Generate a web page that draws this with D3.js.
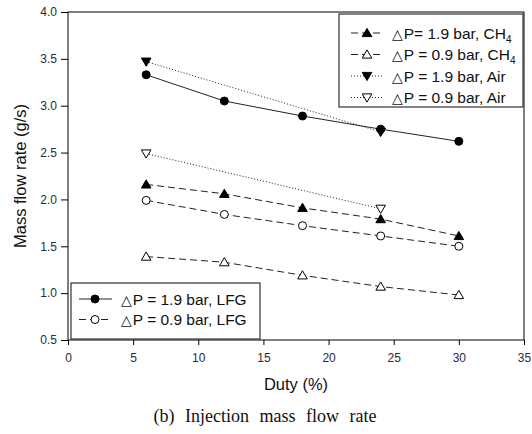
<!doctype html>
<html>
<head>
<meta charset="utf-8">
<style>
  body { margin: 0; background: #fff; font-family: Arial, "Liberation Sans", sans-serif; }
  svg text { fill: #111; }
</style>
</head>
<body>
<div id="chart"></div>
<script src="https://cdnjs.cloudflare.com/ajax/libs/d3/7.8.5/d3.min.js"></script>
<script>
  // data
  var duty = [6, 12, 18, 24, 30]
  var dutyAir = [6, 24]
  var lfg19 = [3.33, 3.05, 2.89, 2.75, 2.62]
  var lfg09 = [1.99, 1.84, 1.72, 1.61, 1.50]
  var ch419 = [2.16, 2.06, 1.91, 1.79, 1.61]
  var ch409 = [1.39, 1.33, 1.19, 1.07, 0.98]
  var air19 = [3.47, 2.72]
  var air09 = [2.49, 1.90]
  var xTicks = [0, 5, 10, 15, 20, 25, 30, 35]
  var yTicks = [0.5, 1.0, 1.5, 2.0, 2.5, 3.0, 3.5, 4.0]

  var W = 532, H = 434
  var margin = { top: 12, left: 68, right: 8, bottom: 94 }
  var width = W - margin.left - margin.right
  var height = H - margin.top - margin.bottom

  var svg = d3.select('#chart').append('svg')
    .attr('width', W).attr('height', H)
  var g = svg.append('g')
    .attr('transform', `translate(${margin.left},${margin.top})`)

  var x = d3.scaleLinear().domain([0, 35]).range([0, width])
  var y = d3.scaleLinear().domain([0.5, 4.0]).range([height, 0])

  // frame
  g.append('rect')
    .attr('width', width).attr('height', height)
    .attr('fill', 'none').attr('stroke', '#000').attr('stroke-width', 1)

  var xAxis = g.append('g')
    .attr('transform', `translate(0,${height})`)
    .call(d3.axisBottom(x).tickValues(xTicks).tickSize(5).tickPadding(8).tickFormat(d3.format('d')))
  var yAxis = g.append('g')
    .call(d3.axisLeft(y).tickValues(yTicks).tickSize(7).tickPadding(4).tickFormat(d3.format('.1f')))
  ;[xAxis, yAxis].forEach(a => {
    a.select('.domain').remove()
    a.selectAll('text').attr('font-size', 12).attr('font-family', 'Arial, "Liberation Sans", sans-serif').style('fill', '#2a2a3a')
  })

  // axis titles
  svg.append('text')
    .attr('x', 296).attr('y', 390)
    .attr('text-anchor', 'middle').attr('font-size', 16.5)
    .text('Duty (%)')
  svg.append('text')
    .attr('transform', `translate(26,${margin.top + height / 2}) rotate(-90)`)
    .attr('text-anchor', 'middle').attr('font-size', 16.5)
    .text('Mass flow rate (g/s)')
  svg.append('text')
    .attr('x', 265).attr('y', 422)
    .attr('text-anchor', 'middle').attr('font-size', 18)
    .attr('font-family', '"Liberation Serif", "DejaVu Serif", serif')
    .attr('word-spacing', 6)
    .text('(b) Injection mass flow rate')

  var series = [
    { xs: duty, ys: ch419, dash: '7,4', shape: 'up', fill: '#000' },
    { xs: duty, ys: ch409, dash: '7,4', shape: 'up', fill: '#fff' },
    { xs: dutyAir, ys: air19, dash: '1,2', shape: 'down', fill: '#000' },
    { xs: dutyAir, ys: air09, dash: '1,2', shape: 'down', fill: '#fff' },
    { xs: duty, ys: lfg19, dash: null, shape: 'circle', fill: '#000' },
    { xs: duty, ys: lfg09, dash: '7,4', shape: 'circle', fill: '#fff' }
  ]

  var line = d3.line()

  function marker(sel, shape, fill) {
    if (shape === 'circle') {
      sel.append('circle').attr('r', 4)
        .attr('fill', fill).attr('stroke', '#000').attr('stroke-width', 1)
    } else {
      var p = shape === 'up' ? 'M0,-4.6L4.8,3.6L-4.8,3.6Z' : 'M0,4.6L4.8,-3.6L-4.8,-3.6Z'
      sel.append('path').attr('d', p)
        .attr('fill', fill).attr('stroke', '#000').attr('stroke-width', 1)
    }
  }

  series.forEach(s => {
    var pts = s.xs.map((d, i) => [x(d), y(s.ys[i])])
    g.append('path')
      .attr('d', line(pts))
      .attr('fill', 'none').attr('stroke', '#222').attr('stroke-width', 1)
      .attr('stroke-dasharray', s.dash)
    pts.forEach(p => {
      marker(g.append('g').attr('transform', `translate(${p})`), s.shape, s.fill)
    })
  })

  // legends
  var leg1 = [
    { s: series[0], label: 'P= 1.9 bar, CH', sub: '4' },
    { s: series[1], label: 'P = 0.9 bar, CH', sub: '4' },
    { s: series[2], label: 'P = 1.9 bar, Air' },
    { s: series[3], label: 'P = 0.9 bar, Air' }
  ]
  var leg2 = [
    { s: series[4], label: 'P = 1.9 bar, LFG' },
    { s: series[5], label: 'P = 0.9 bar, LFG' }
  ]

  function legend(items, bx, by, bw, bh, rowY, rowGap, lineX, textX) {
    var lg = svg.append('g')
    lg.append('rect')
      .attr('x', bx).attr('y', by).attr('width', bw).attr('height', bh)
      .attr('fill', '#fff').attr('stroke', '#333').attr('stroke-width', 1.2)
    items.forEach((it, i) => {
      var yy = by + rowY + i * rowGap
      lg.append('line')
        .attr('x1', bx + lineX).attr('x2', bx + lineX + 33).attr('y1', yy).attr('y2', yy)
        .attr('stroke', '#222').attr('stroke-width', 1)
        .attr('stroke-dasharray', it.s.dash)
      marker(lg.append('g').attr('transform', `translate(${bx + lineX + 16},${yy})`), it.s.shape, it.s.fill)
      var t = lg.append('text')
        .attr('x', bx + textX).attr('y', yy + 5.5).attr('font-size', 15.5)
      t.append('tspan').attr('font-size', 14).attr('font-family', '"DejaVu Sans", sans-serif').text('\u25B3')
      t.append('tspan').attr('dx', 1).text(it.label)
      if (it.sub) t.append('tspan').attr('dy', 4).attr('font-size', 10).text(it.sub)
    })
  }

  legend(leg1, 339, 14, 184, 93, 19, 21.5, 12, 53)
  legend(leg2, 71, 283, 189, 56, 16, 20.5, 8, 50)
</script>
</body>
</html>
